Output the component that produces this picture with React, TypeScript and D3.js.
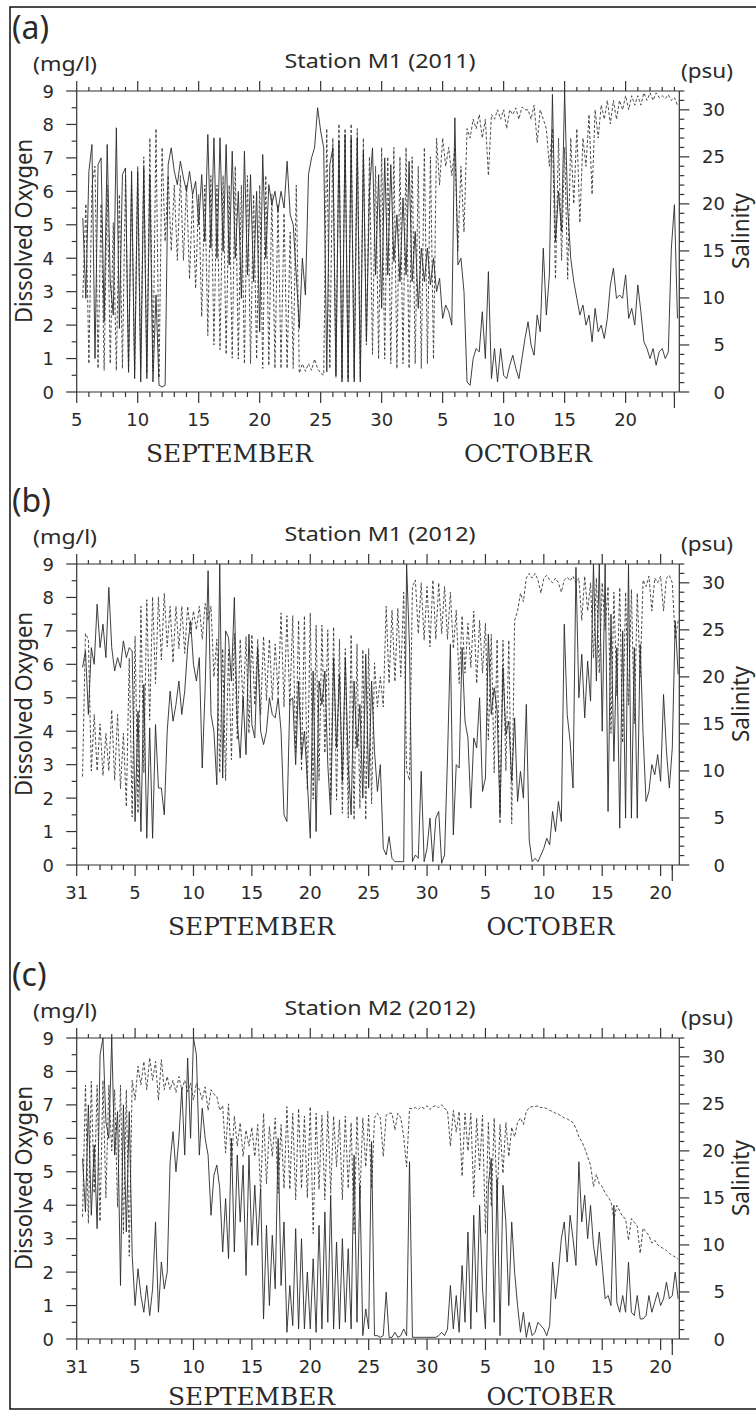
import React from "react";
import * as d3 from "d3";

// ---------- DATA (values sampled every 6 h; series start 12 h after axis origin) ----------
const SERIES_START = 0.5; // days after axis origin
const SERIES_STEP = 0.25; // days

// Panel (a) Station M1 2011, axis origin 5 Sep
const aDO = [
  5.2, 2.8,
  6.6, 7.4, 1.0, 6.8, 7.0, 2.1, 7.4, 3.3, 2.3, 7.9, 1.9, 6.5, 6.7, 0.6, 6.6, 0.4,
  6.6, 0.3, 6.7, 0.4, 6.5, 0.3, 2.9, 0.2, 0.15, 0.2, 6.8, 7.3, 6.6, 6.2, 6.9, 6.4,
  6.0, 6.6, 5.9, 6.3, 5.0, 6.5, 4.5, 7.7, 4.3, 7.6, 4.0, 7.6, 4.2, 7.4, 3.8, 7.2,
  4.0, 6.0, 2.8, 7.2, 3.5, 6.5, 3.3, 6.0, 1.8, 7.1, 4.0, 6.2, 5.6, 6.0, 5.4, 6.0,
  5.5, 6.9, 5.3, 5.0, 3.5, 1.9, 4.0, 2.9, 6.5, 7.0, 7.3, 8.5, 7.8, 7.3, 0.6, 6.8,
  7.3, 0.5, 7.5, 0.3, 7.7, 0.3, 7.6, 0.3, 7.6, 0.3, 7.2, 1.5, 6.0, 7.3, 3.5, 6.5,
  2.5, 7.0, 3.5, 6.8, 3.9, 5.3, 3.3, 5.8, 3.5, 6.9, 3.3, 4.8, 2.5, 4.3, 3.3, 4.3,
  3.2, 4.0, 3.0, 3.4, 2.2, 2.6, 2.4, 2.0, 8.2, 3.8, 4.0, 3.0, 0.3, 0.2, 1.0, 1.3,
  1.2, 2.4, 1.0, 3.6, 0.4, 1.3, 0.3, 1.3, 0.5, 0.4, 0.8, 1.1, 0.7, 0.4, 1.0, 1.6,
  2.1, 1.4, 1.1, 2.3, 1.8, 4.3, 2.3, 3.5, 8.9, 4.5, 6.0, 4.8, 9.0, 5.5, 4.0, 3.3,
  2.8, 2.3, 2.6, 2.0, 2.3, 1.5, 2.5, 1.8, 2.0, 1.6, 2.2, 3.2, 3.7, 2.8, 2.9, 2.8,
  3.5, 2.2, 2.5, 2.0, 3.2, 2.4, 1.5, 1.3, 1.0, 1.3, 0.8, 1.2, 1.3, 1.0, 1.2, 4.3,
  5.6, 2.2,
];
const aSal = [
  10, 20,
  3, 22, 24, 2.5, 20, 2.3, 22, 3, 18, 2.3, 21, 2.5, 23, 2.0, 22, 2.2,
  24, 2.5, 25, 2.0, 27, 2.2, 28, 1.5, 26, 16, 23, 15, 22, 14, 23, 14,
  22, 12, 21, 11, 21, 8, 22, 6, 23, 5, 22, 4.5, 23, 4, 22, 3.6,
  24, 3.5, 22, 3.0, 23, 3.0, 21, 3.5, 22, 2.5, 23, 2.8, 21, 2.5, 20, 2.5,
  19, 2.5, 17, 2.5, 22, 2.0, 3.0, 2.2, 3.0, 2.3, 3.5, 2.5, 2.0, 1.8, 28, 2.5,
  27, 1.5, 28.5, 1.4, 28, 1.4, 28.5, 1.5, 28, 1.6, 27, 5, 25, 4, 24, 3.5,
  26, 3.5, 25, 3.0, 26, 2.5, 25, 3.0, 26, 2.5, 25, 3.0, 24, 2.5, 26, 3.0,
  25, 3.5, 27, 22, 27, 24, 26, 23, 26, 15, 24, 17, 28, 27, 29, 28,
  29.5, 27, 29, 23, 29.5, 29, 30, 29, 30, 28, 30, 29.5, 30.2, 29, 30.3, 30,
  30, 29, 30.5, 26.5, 30, 29, 28, 24, 28, 12, 27, 14, 26, 12, 27, 20,
  28, 18, 27, 24, 29.5, 21, 30, 27, 30.5, 29, 31, 28.5, 31, 29, 31, 30,
  31.5, 30, 31.5, 30.5, 31.5, 30.5, 31.8, 31, 31.8, 31, 31.8, 31.3, 31.5, 31.2, 31.6, 31,
  31.3, 30.5,
];

// Panel (b) Station M1 2012, axis origin 31 Aug
const bDO = [
  5.9, 6.4,
  4.5, 6.5, 6.0, 7.8, 6.5, 7.2, 6.2, 8.3, 6.5, 5.8, 6.2, 5.9, 6.7, 6.2, 6.5, 6.4,
  1.3, 4.6, 1.0, 5.4, 0.8, 4.1, 0.8, 4.2, 2.3, 2.3, 1.5, 4.0, 5.2, 4.3, 4.8, 5.5,
  4.5, 5.2, 6.5, 7.3, 6.0, 5.5, 6.2, 2.9, 5.3, 8.8, 4.5, 4.0, 2.4, 9.0, 2.6, 7.0,
  6.8, 5.5, 8.0, 4.3, 3.2, 5.0, 3.3, 6.9, 4.2, 3.8, 6.5, 4.0, 3.6, 4.0, 5.0, 4.5,
  4.4, 5.0, 4.0, 1.5, 1.3, 4.9, 5.0, 3.0, 5.5, 3.2, 4.0, 2.5, 0.8, 5.8, 1.0, 5.5,
  4.8, 5.8, 3.0, 1.5, 6.2, 3.5, 5.7, 2.5, 6.2, 3.0, 1.5, 5.5, 3.5, 4.8, 2.0, 6.3,
  2.3, 5.5, 3.4, 2.2, 3.0, 0.5, 0.3, 0.85, 0.2, 0.1, 0.1, 0.1, 0.1, 9.0, 6.5, 0.1,
  0.3, 0.2, 2.8, 0.1, 0.5, 1.4, 0.1, 1.4, 1.6, 0.05, 0.3, 3.2, 6.6, 0.9, 3.0, 2.9,
  6.5, 4.3, 3.8, 1.7, 3.8, 3.5, 5.0, 2.2, 2.6, 6.9, 4.5, 5.3, 4.6, 1.5, 5.9, 3.9,
  4.3, 2.5, 4.4, 1.9, 2.8, 2.0, 4.8, 0.75, 0.1, 0.2, 0.1, 0.3, 0.5, 0.8, 0.6, 1.6,
  1.0, 1.9, 1.3, 7.2, 4.5, 3.7, 2.3, 8.9, 5.0, 6.3, 4.4, 6.1, 4.9, 9.0, 5.5, 9.0,
  4.0, 9.0, 1.6, 7.5, 3.1, 6.5, 1.1, 7.0, 1.4, 9.0, 1.4, 6.5, 1.4, 6.6, 3.9, 1.9,
  2.2, 3.0, 2.7, 3.3, 2.5, 5.1, 3.4, 2.3, 3.5, 7.3, 5.7,
];
const bSal = [
  9.4, 24.6,
  24, 10, 16, 10, 15, 9.5, 14, 10, 16.5, 9, 16, 8.1, 14, 6.2, 22, 5.1,
  24.3, 5.5, 27.5, 9.8, 28.2, 15.4, 28.5, 19.3, 28.5, 21.8, 28.9, 23.2, 27.5, 21.5, 27.5, 23,
  27.5, 22.5, 27.5, 24.6, 27, 25, 27.5, 24, 27.8, 26, 27.5, 20, 24, 9.8, 23, 9,
  22.9, 11.2, 24.6, 13.3, 24, 16.8, 24.3, 14, 24.5, 17, 24, 16, 24.3, 17.5, 24, 17.5,
  23.5, 18, 26.8, 16.8, 26.5, 17, 26.5, 12, 26, 10, 26.5, 8, 26.8, 7, 25.5, 9,
  25.5, 11.9, 25, 7, 25.3, 6.9, 24, 5.5, 23, 5, 24.5, 4.8, 23.5, 6, 22.9, 4.8,
  23, 6.5, 21.5, 16.8, 20, 16.8, 27.5, 19.3, 27.1, 19.5, 27.3, 20, 29, 10.1, 9, 29.6,
  30.3, 24.6, 30, 23.9, 29.6, 23.2, 30.3, 24, 30, 24.6, 29.6, 24, 29, 23, 27.1, 19.3,
  26.5, 20.4, 25.7, 21, 27, 19.3, 26, 20.4, 25.7, 13.3, 24.5, 9.8, 24, 4.4, 23.9, 10,
  23.9, 4.4, 26, 27, 28.9, 28, 30.5, 31, 30.5, 31, 30.3, 28.9, 30.5, 30.8, 30.3, 30,
  30.5, 30, 29, 30.3, 30.6, 30.2, 30.7, 30, 30.5, 26, 30.7, 27, 30, 22, 30.5, 20.4,
  30, 25, 29.6, 14, 29, 18, 29.5, 13, 29, 17, 29.3, 15, 28.9, 20, 30.3, 29.6,
  30.7, 27, 30.5, 30, 30.7, 27, 30.5, 30.8, 30, 24, 26,
];

// Panel (c) Station M2 2012, axis origin 31 Aug
const cDO = [
  5.4, 3.8,
  7.0, 3.7, 5.8, 3.3, 8.5, 9.0, 6.5, 6.0, 9.0, 5.5, 6.8, 1.6, 7.0, 3.2, 6.8, 2.5,
  1.0, 2.1, 1.3, 0.8, 1.6, 0.7, 1.5, 3.5, 0.8, 2.3, 1.5, 2.0, 5.3, 6.2, 5.0, 6.0,
  7.5, 5.5, 8.4, 6.0, 9.0, 8.5, 5.5, 6.9, 6.0, 5.5, 3.7, 4.9, 5.2, 4.5, 2.6, 4.2,
  2.4, 6.0, 2.6, 5.5, 3.5, 5.2, 1.9, 5.5, 2.8, 4.6, 2.8, 4.5, 0.6, 3.4, 1.0, 3.1,
  1.5, 6.0, 1.6, 3.5, 0.2, 1.6, 0.4, 3.3, 0.3, 3.0, 0.3, 2.0, 0.3, 2.4, 0.2, 3.4,
  0.3, 3.8, 0.5, 4.3, 0.3, 2.9, 0.3, 3.0, 0.5, 2.7, 0.3, 5.5, 0.5, 4.6, 0.1, 0.9,
  0.3, 5.9, 0.1, 0.1, 0.05, 0.1, 1.4, 0.05, 0.05, 0.2, 0.05, 0.1, 0.3, 0.1, 5.3, 0.05,
  0.05, 0.05, 0.05, 0.05, 0.05, 0.05, 0.05, 0.05, 0.1, 0.2, 0.1, 0.3, 1.6, 0.3, 1.3, 0.2,
  2.2, 0.5, 3.2, 0.3, 3.7, 0.8, 4.0, 1.5, 0.3, 4.6, 5.4, 0.5, 4.8, 0.1, 4.6, 3.5,
  1.0, 3.5, 2.0, 1.0, 0.2, 0.8, 0.05, 0.5, 0.1, 0.2, 0.5, 0.4, 0.3, 0.1, 0.4, 2.3,
  1.2, 2.0, 3.0, 3.5, 2.3, 3.7, 3.0, 2.2, 5.3, 3.5, 4.3, 3.0, 4.0, 2.8, 2.2, 3.2,
  2.2, 1.2, 1.3, 1.0, 4.0, 1.1, 0.8, 1.3, 0.8, 2.3, 0.8, 0.7, 1.3, 0.6, 0.6, 0.7,
  1.3, 0.8, 1.1, 1.4, 1.0, 1.2, 1.7, 1.2, 1.3, 2.0, 1.2,
];
const cSal = [
  13, 27,
  12.3, 27.4, 15.5, 27, 12.5, 27.5, 15, 27, 20, 26.5, 14, 27, 11.2, 26.5, 8.8, 27.5,
  25.4, 29, 27, 29.5, 26.5, 29.9, 27.5, 29.5, 25.4, 29.7, 26.5, 27.9, 26.5, 27.5, 26.2, 27.9,
  26.5, 27.5, 26.3, 27.2, 25.4, 27.2, 26.5, 25.4, 26.8, 24.3, 26.5, 26, 25.8, 24.3, 24.8, 19.8,
  25, 18.3, 23.7, 20.5, 23, 19.4, 22.2, 20.5, 22.5, 19.4, 22.8, 15.5, 24, 16.5, 22.6, 19.4,
  23.5, 15.5, 22.8, 16, 24.7, 15.9, 24, 14.8, 24.5, 16, 23.7, 15, 24.7, 11.2, 24, 15.9,
  23.8, 14.8, 24.2, 15.5, 23.7, 18.3, 23.3, 14.8, 23.7, 16, 23, 11.2, 23.7, 15, 23.5, 18.3,
  23.8, 16, 23.5, 24, 23.5, 19.4, 23.8, 24, 24, 22.2, 24, 23.5, 21.5, 18.3, 24.5, 24.5,
  24.6, 24.4, 24.7, 24.5, 24.8, 24.4, 24.7, 24.8, 24.6, 24.9, 24.5, 24.3, 20.5, 24.3, 22, 24.2,
  17.3, 24, 20, 24, 15.1, 23.5, 18, 23.8, 11.2, 23, 14.1, 23.5, 14.8, 22.8, 17.6, 23,
  19.4, 22.5, 21.5, 23, 23.5, 22.8, 24.2, 24.6, 24.7, 24.7, 24.8, 24.6, 24.6, 24.5, 24.3, 24.2,
  24, 23.9, 23.7, 23.5, 23.4, 23.2, 23, 22.4, 21.5, 21, 20.3, 19.4, 18.5, 16.2, 17.5, 16.5,
  16.2, 15.5, 15.1, 14.6, 12.7, 14.2, 13.6, 13, 12.8, 10.5, 12.8, 12.4, 12, 9.1, 11.8, 11.4,
  11, 10.2, 10.5, 10, 9.8, 9.6, 9.4, 9.1, 8.9, 8.7, 8.5,
];

const PANEL_LETTERS = ["(a)", "(b)", "(c)"];
const PANEL_TITLES = ["Station M1 (2011)", "Station M1 (2012)", "Station M2 (2012)"];
const X_TICK_LABELS_A = ["5", "10", "15", "20", "25", "30", "5", "10", "15", "20"];
const X_TICK_LABELS_BC = ["31", "5", "10", "15", "20", "25", "30", "5", "10", "15", "20"];
const X_SPAN_DAYS = [49.4, 51.6, 51.6];
const END_TICK_DAY = [49, 51, 51];
const DO_TICKS = [0, 1, 2, 3, 4, 5, 6, 7, 8, 9];
const SAL_TICKS = [0, 5, 10, 15, 20, 25, 30];
const MONTHS = ["SEPTEMBER", "OCTOBER"];

// ---------- LAYOUT ----------
const W = 756;
const H = 1412;
const X0 = 76.7;
const X1 = 679.3;
const PH = 301;
const TOPS = [91, 564, 1038];
const MONTH_X = [
  [229.5, 528],
  [251.5, 550.5],
  [251.5, 550.5],
];
const MONTH_DY = [70, 70, 66];

const SANS = "'Noto Sans', 'Open Sans', sans-serif";
const NUM = "'DejaVu Sans', sans-serif";
const SERIF = "'DejaVu Serif', serif";
const AX = "#333";
const TXT = "#2a2a2a";

type PanelProps = {
  idx: number;
  doVals: number[];
  salVals: number[];
  tickLabels: string[];
};

function Panel({ idx, doVals, salVals, tickLabels }: PanelProps) {
  const top = TOPS[idx];
  const bottom = top + PH;
  const xMax = X_SPAN_DAYS[idx];
  const x = d3.scaleLinear().domain([0, xMax]).range([X0, X1]);
  const yDO = d3.scaleLinear().domain([0, 9]).range([bottom, top]);
  const yS = d3.scaleLinear().domain([0, 32]).range([bottom, top]);
  const tOf = (i: number) => SERIES_START + i * SERIES_STEP;
  const lineDO = d3
    .line<number>()
    .x((_, i) => x(tOf(i)))
    .y((d) => yDO(d));
  const lineS = d3
    .line<number>()
    .x((_, i) => x(tOf(i)))
    .y((d) => yS(d));
  const days = d3.range(0, Math.floor(xMax) + 1);
  const doMinor = d3.range(0, 9, 0.5).filter((v) => v % 1 !== 0);
  const salMinor = d3.range(0, 33).filter((v) => v % 5 !== 0);
  const clipId = `plot-clip-${idx}`;
  const mid = top + 140;

  return (
    <g>
      <defs>
        <clipPath id={clipId}>
          <rect x={X0} y={top} width={X1 - X0} height={PH} />
        </clipPath>
      </defs>

      {/* labels */}
      <text x={12} y={top - 52} fontFamily={SANS} fontSize={32} fill={TXT}>
        {PANEL_LETTERS[idx]}
      </text>
      <text x={380} y={top - 23} fontFamily={SANS} fontSize={20} fill={TXT} textAnchor="middle" textLength={191} lengthAdjust="spacingAndGlyphs">
        {PANEL_TITLES[idx]}
      </text>
      <text x={33} y={top - 20} fontFamily={SANS} fontSize={19} fill={TXT} textLength={64} lengthAdjust="spacingAndGlyphs">
        (mg/l)
      </text>
      <text x={681} y={top - 13} fontFamily={SANS} fontSize={19} fill={TXT} textLength={52} lengthAdjust="spacingAndGlyphs">
        (psu)
      </text>
      <text
        transform={`translate(32,${mid}) rotate(-90)`}
        fontFamily={SANS}
        fontSize={24}
        fill={TXT}
        textAnchor="middle"
        textLength={184}
        lengthAdjust="spacingAndGlyphs"
      >
        Dissolved Oxygen
      </text>
      <text
        transform={`translate(749,${mid}) rotate(-90)`}
        fontFamily={SANS}
        fontSize={23}
        fill={TXT}
        textAnchor="middle"
        textLength={76}
        lengthAdjust="spacingAndGlyphs"
      >
        Salinity
      </text>

      {/* data */}
      <g clipPath={`url(#${clipId})`}>
        <path d={lineS(salVals) || ""} fill="none" stroke="#3a3a3a" strokeWidth={0.9} strokeDasharray="3,2" />
        <path d={lineDO(doVals) || ""} fill="none" stroke="#2a2a2a" strokeWidth={0.9} />
      </g>

      {/* frame */}
      <g stroke={AX} strokeWidth={1.2} fill="none">
        <line x1={X0} x2={X1} y1={top} y2={top} />
        <line x1={X0} x2={X1} y1={bottom} y2={bottom} />
        <line x1={X0} x2={X0} y1={top} y2={bottom} />
        <line x1={X1} x2={X1} y1={top} y2={bottom} />
        {days.map((d) => {
          const major = d % 5 === 0;
          const xx = x(d);
          return (
            <g key={`xt${d}`}>
              <line x1={xx} x2={xx} y1={top} y2={top - (major ? 10 : 4)} />
              <line x1={xx} x2={xx} y1={bottom} y2={bottom + (major ? 11 : 5)} />
            </g>
          );
        })}
        <line x1={x(END_TICK_DAY[idx])} x2={x(END_TICK_DAY[idx])} y1={bottom} y2={bottom + 16} />
        {DO_TICKS.map((v) => (
          <line key={`yl${v}`} x1={X0} x2={X0 - 10.5} y1={yDO(v)} y2={yDO(v)} />
        ))}
        {doMinor.map((v) => (
          <line key={`ylm${v}`} x1={X0} x2={X0 - 5} y1={yDO(v)} y2={yDO(v)} />
        ))}
        {SAL_TICKS.map((v) => (
          <line key={`yr${v}`} x1={X1} x2={X1 + 10} y1={yS(v)} y2={yS(v)} />
        ))}
        {salMinor.map((v) => (
          <line key={`yrm${v}`} x1={X1} x2={X1 + 5} y1={yS(v)} y2={yS(v)} />
        ))}
      </g>

      {/* tick labels */}
      <g fontFamily={NUM} fontSize={18} fill={TXT}>
        {DO_TICKS.map((v) => (
          <text key={`yll${v}`} x={54} y={yDO(v) + 6.5} textAnchor="end">
            {v}
          </text>
        ))}
        {SAL_TICKS.map((v) => (
          <text key={`yrl${v}`} x={725} y={yS(v) + 6.5} textAnchor="end">
            {v}
          </text>
        ))}
        {tickLabels.map((lab, k) => (
          <text key={`xl${k}`} x={x(k * 5)} y={bottom + 34} textAnchor="middle">
            {lab}
          </text>
        ))}
      </g>

      {/* months */}
      <g fontFamily={SERIF} fontSize={24} fill={TXT}>
        <text x={MONTH_X[idx][0]} y={bottom + MONTH_DY[idx]} textAnchor="middle" textLength={167} lengthAdjust="spacingAndGlyphs">
          {MONTHS[0]}
        </text>
        <text x={MONTH_X[idx][1]} y={bottom + MONTH_DY[idx]} textAnchor="middle" textLength={128} lengthAdjust="spacingAndGlyphs">
          {MONTHS[1]}
        </text>
      </g>
    </g>
  );
}

export default function App() {
  const series = [
    { doVals: aDO, salVals: aSal, tickLabels: X_TICK_LABELS_A },
    { doVals: bDO, salVals: bSal, tickLabels: X_TICK_LABELS_BC },
    { doVals: cDO, salVals: cSal, tickLabels: X_TICK_LABELS_BC },
  ];
  return (
    <svg
      width={W}
      height={H}
      viewBox={`0 0 ${W} ${H}`}
      style={{ position: "absolute", left: 0, top: 0, background: "#fff" }}
    >
      <defs>
        <clipPath id="frame-clip">
          <rect x={10} y={7} width={747} height={1402} />
        </clipPath>
      </defs>
      <rect x={0} y={0} width={W} height={H} fill="#fff" />
      <g clipPath="url(#frame-clip)">
        {series.map((s, i) => (
          <Panel key={i} idx={i} doVals={s.doVals} salVals={s.salVals} tickLabels={s.tickLabels} />
        ))}
      </g>
      <rect x={10} y={7} width={747} height={1402} fill="none" stroke="#111" strokeWidth={1.5} />
    </svg>
  );
}
